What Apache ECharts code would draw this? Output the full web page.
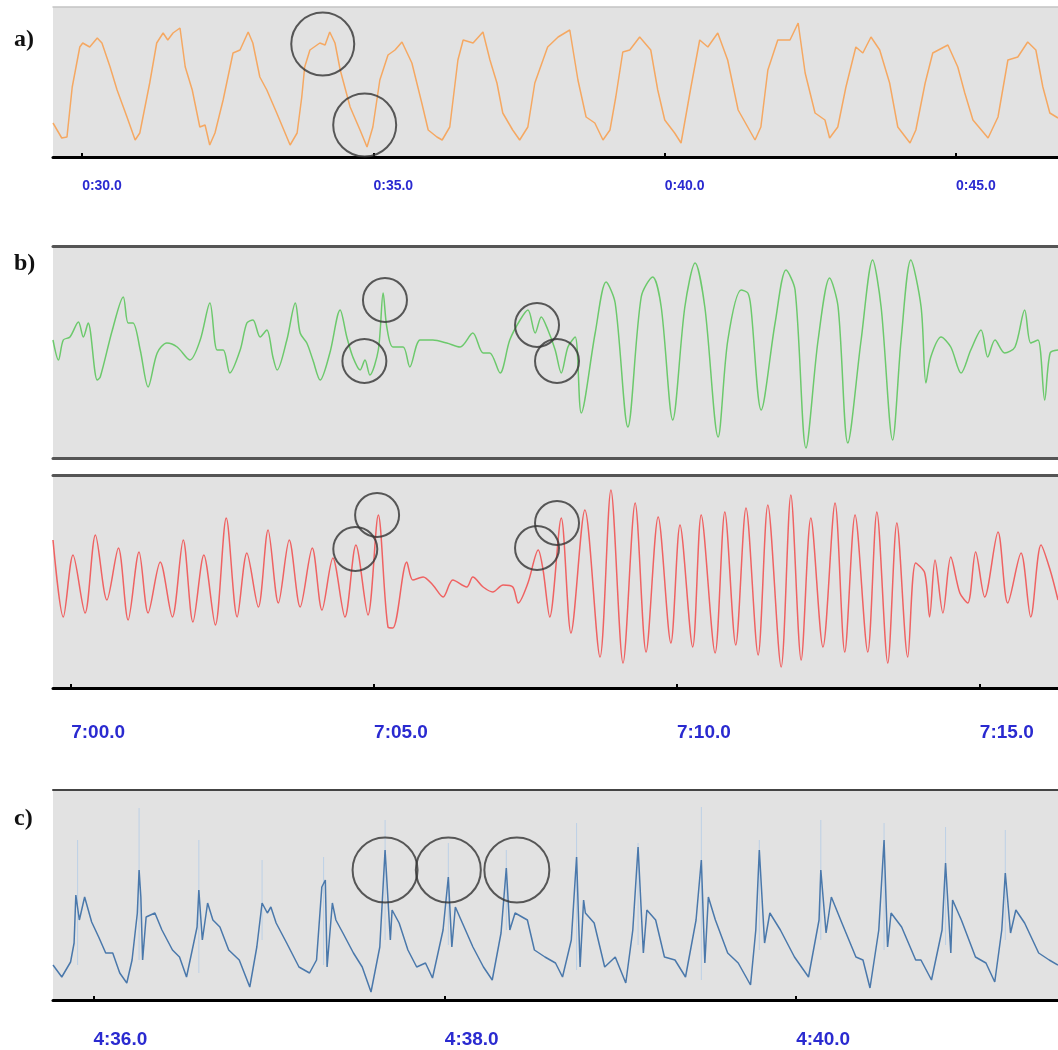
<!DOCTYPE html>
<html>
<head>
<meta charset="utf-8">
<title>Signal traces</title>
<script src="https://cdn.jsdelivr.net/npm/echarts@6/dist/echarts.min.js"></script>
<style>
  html, body { margin: 0; padding: 0; background: #fff; }
  #chart { width: 1058px; height: 1050px; }
</style>
</head>
<body>
<div id="chart"></div>
<script>
// ---- data: [seconds, amplitude] ----

// a) orange trace, 0:29.5 .. 0:46.75
const orangeTrace = [
  [29.50, 34], [29.65, 19], [29.74, 20], [29.83, 70], [29.96, 110], [30.01, 114], [30.13, 110],
  [30.26, 119], [30.34, 114], [30.48, 90], [30.60, 67], [30.77, 40], [30.91, 17], [30.99, 24],
  [31.16, 74], [31.28, 114], [31.39, 124], [31.47, 117], [31.56, 124], [31.68, 129], [31.77, 90],
  [31.89, 67], [32.02, 30], [32.11, 32], [32.19, 12], [32.28, 24], [32.42, 57], [32.59, 104],
  [32.71, 107], [32.85, 125], [32.93, 114], [33.05, 80], [33.17, 67], [33.34, 44], [33.57, 12],
  [33.69, 24], [33.77, 60], [33.82, 90], [33.91, 107], [34.08, 114], [34.17, 112], [34.25, 125],
  [34.34, 114], [34.43, 87], [34.60, 50], [34.77, 27], [34.89, 10], [34.99, 30], [35.11, 77],
  [35.25, 102], [35.37, 107], [35.49, 115], [35.66, 94], [35.83, 54], [35.94, 27], [36.09, 20],
  [36.18, 17], [36.31, 30], [36.45, 97], [36.54, 117], [36.71, 114], [36.88, 125], [37.00, 97],
  [37.12, 74], [37.22, 44], [37.39, 27], [37.51, 17], [37.65, 30], [37.77, 74], [37.99, 110],
  [38.17, 120], [38.37, 127], [38.51, 77], [38.65, 40], [38.80, 34], [38.94, 17], [39.06, 27],
  [39.16, 60], [39.28, 105], [39.40, 107], [39.57, 120], [39.76, 107], [39.88, 67], [40.00, 37],
  [40.17, 24], [40.28, 14], [40.45, 70], [40.60, 117], [40.74, 110], [40.91, 124], [41.08, 97],
  [41.26, 47], [41.55, 17], [41.65, 30], [41.77, 87], [41.94, 117], [42.15, 117], [42.29, 134],
  [42.41, 84], [42.58, 44], [42.75, 37], [42.83, 19], [42.97, 30], [43.11, 70], [43.28, 110],
  [43.40, 104], [43.54, 120], [43.69, 107], [43.86, 74], [44.00, 30], [44.21, 14], [44.31, 27],
  [44.47, 74], [44.60, 104], [44.86, 112], [45.03, 90], [45.15, 64], [45.29, 37], [45.55, 19],
  [45.72, 40], [45.89, 97], [46.06, 100], [46.23, 115], [46.37, 107], [46.49, 70], [46.61, 44],
  [46.75, 39]
];

// b) green trace, 6:59.7 .. 7:16.3
const greenTrace = [
  [419.70, 118], [419.79, 98], [419.87, 118], [419.98, 121], [420.12, 136], [420.20, 121],
  [420.28, 135], [420.43, 78], [420.48, 81], [420.68, 128], [420.86, 161], [420.94, 135],
  [421.02, 135], [421.14, 108], [421.27, 71], [421.42, 105], [421.58, 115], [421.75, 111],
  [421.96, 98], [422.13, 118], [422.29, 155], [422.41, 108], [422.51, 108], [422.62, 85],
  [422.79, 108], [422.90, 135], [423.00, 138], [423.12, 121], [423.23, 128], [423.33, 101],
  [423.40, 88], [423.56, 118], [423.70, 155], [423.78, 125], [423.89, 115], [423.99, 98],
  [424.11, 78], [424.27, 105], [424.44, 148], [424.55, 121], [424.65, 101], [424.77, 88],
  [424.85, 98], [424.93, 83], [425.07, 108], [425.15, 165], [425.21, 131], [425.31, 111],
  [425.48, 111], [425.59, 91], [425.76, 118], [425.97, 118], [426.20, 115], [426.42, 111],
  [426.63, 125], [426.80, 105], [426.91, 105], [427.08, 85], [427.24, 118], [427.41, 138],
  [427.54, 148], [427.66, 125], [427.76, 141], [427.87, 128], [427.99, 108], [428.09, 85],
  [428.20, 111], [428.32, 121], [428.42, 45], [428.65, 125], [428.83, 176], [428.98, 155],
  [429.19, 31], [429.41, 161], [429.60, 181], [429.74, 151], [429.93, 38], [430.13, 151],
  [430.30, 195], [430.46, 151], [430.68, 21], [430.84, 118], [431.06, 168], [431.17, 165],
  [431.22, 151], [431.39, 48], [431.62, 135], [431.80, 188], [431.95, 168], [432.13, 10],
  [432.33, 118], [432.52, 180], [432.66, 151], [432.82, 15], [433.04, 118], [433.23, 198],
  [433.37, 151], [433.56, 18], [433.70, 118], [433.86, 198], [434.03, 151], [434.11, 75],
  [434.19, 101], [434.36, 121], [434.52, 111], [434.69, 85], [434.85, 108], [435.02, 128],
  [435.13, 101], [435.25, 118], [435.41, 105], [435.58, 111], [435.74, 148], [435.84, 115],
  [435.96, 118], [436.07, 58], [436.16, 105], [436.29, 108]
];

// b) red trace, same time window
const redTrace = [
  [419.70, 148], [419.87, 71], [420.03, 133], [420.23, 75], [420.40, 153], [420.59, 88],
  [420.78, 140], [420.94, 68], [421.12, 136], [421.27, 75], [421.47, 126], [421.67, 71],
  [421.85, 148], [422.01, 66], [422.19, 133], [422.38, 63], [422.56, 170], [422.74, 71],
  [422.90, 135], [423.09, 81], [423.25, 158], [423.42, 85], [423.60, 148], [423.78, 81],
  [423.98, 140], [424.14, 78], [424.32, 130], [424.52, 71], [424.70, 143], [424.90, 73],
  [425.07, 173], [425.23, 61], [425.31, 60], [425.54, 126], [425.64, 108], [425.81, 111],
  [425.97, 103], [426.14, 91], [426.30, 108], [426.53, 101], [426.63, 111], [426.80, 101],
  [426.96, 96], [427.13, 103], [427.29, 101], [427.38, 85], [427.54, 105], [427.71, 138],
  [427.79, 118], [427.90, 71], [428.09, 170], [428.25, 55], [428.48, 178], [428.73, 31],
  [428.91, 198], [429.11, 25], [429.31, 185], [429.49, 36], [429.69, 171], [429.90, 45],
  [430.05, 163], [430.26, 41], [430.40, 173], [430.63, 35], [430.79, 176], [430.97, 43],
  [431.14, 180], [431.34, 33], [431.50, 183], [431.72, 21], [431.88, 193], [432.05, 28],
  [432.21, 170], [432.41, 41], [432.61, 185], [432.77, 36], [432.94, 173], [433.15, 36],
  [433.30, 176], [433.48, 25], [433.63, 165], [433.81, 31], [433.94, 125], [434.09, 115],
  [434.17, 71], [434.26, 128], [434.39, 75], [434.52, 131], [434.67, 95], [434.80, 85],
  [434.93, 136], [435.08, 91], [435.30, 156], [435.46, 85], [435.68, 135], [435.84, 71],
  [436.01, 143], [436.16, 118], [436.29, 88]
];

// c) blue trace, 4:35.77 .. 4:41.49
const blueTrace = [
  [275.77, 35], [275.82, 23], [275.87, 38], [275.89, 57], [275.90, 105], [275.92, 80],
  [275.95, 103], [275.99, 78], [276.03, 63], [276.07, 47], [276.11, 47], [276.15, 27],
  [276.19, 17], [276.22, 40], [276.25, 87], [276.26, 130], [276.27, 103], [276.28, 40],
  [276.30, 83], [276.35, 87], [276.39, 70], [276.45, 50], [276.49, 43], [276.53, 23],
  [276.59, 73], [276.60, 110], [276.62, 60], [276.65, 97], [276.68, 80], [276.72, 73],
  [276.77, 50], [276.83, 40], [276.89, 13], [276.93, 53], [276.96, 97], [276.99, 87],
  [277.01, 93], [277.04, 77], [277.10, 57], [277.17, 33], [277.23, 27], [277.27, 40],
  [277.30, 113], [277.32, 120], [277.33, 33], [277.36, 97], [277.38, 80], [277.42, 67],
  [277.48, 47], [277.53, 33], [277.58, 8], [277.63, 53], [277.66, 150], [277.69, 60],
  [277.70, 90], [277.74, 77], [277.79, 50], [277.84, 33], [277.89, 37], [277.93, 22],
  [277.99, 70], [278.02, 123], [278.04, 53], [278.06, 93], [278.10, 77], [278.16, 53],
  [278.22, 33], [278.27, 20], [278.32, 67], [278.35, 132], [278.37, 70], [278.40, 87],
  [278.47, 80], [278.51, 50], [278.57, 43], [278.63, 37], [278.67, 23], [278.72, 60],
  [278.75, 143], [278.77, 33], [278.79, 100], [278.80, 87], [278.85, 77], [278.91, 33],
  [278.97, 43], [279.03, 17], [279.07, 70], [279.10, 153], [279.13, 47], [279.15, 90],
  [279.20, 80], [279.25, 43], [279.31, 40], [279.37, 23], [279.43, 80], [279.46, 140],
  [279.48, 37], [279.50, 103], [279.54, 80], [279.61, 47], [279.67, 37], [279.74, 15],
  [279.77, 70], [279.79, 150], [279.82, 57], [279.85, 87], [279.91, 70], [279.99, 43],
  [280.07, 23], [280.13, 80], [280.14, 130], [280.17, 67], [280.20, 103], [280.26, 77],
  [280.34, 43], [280.38, 40], [280.42, 12], [280.47, 70], [280.50, 160], [280.52, 53],
  [280.54, 87], [280.60, 73], [280.68, 40], [280.71, 40], [280.77, 20], [280.83, 70],
  [280.85, 137], [280.88, 47], [280.89, 100], [280.94, 80], [281.02, 43], [281.08, 37],
  [281.13, 18], [281.17, 70], [281.19, 127], [281.22, 67], [281.25, 90], [281.30, 77],
  [281.38, 47], [281.44, 40], [281.49, 35]
];

// c) faint spike extents: [time, top, bottom]
const blueSpikes = [
  [275.91, 160, 35], [276.26, 192, 40], [276.60, 160, 27], [276.96, 140, 60],
  [277.31, 143, 35], [277.66, 180, 60], [278.02, 157, 55], [278.35, 150, 70],
  [278.75, 177, 30], [279.10, 157, 55], [279.46, 193, 20], [279.79, 160, 50],
  [280.14, 180, 60], [280.50, 177, 50], [280.85, 173, 55], [281.19, 170, 60]
];

// annotation rings: [time, amplitude]
const circlesA = [[34.13, 113], [34.85, 32]];
const circlesGreen = [[425.18, 158], [424.84, 97], [427.69, 133], [428.02, 97]];
const circlesRed = [[425.05, 173], [424.69, 139], [428.02, 165], [427.69, 140]];
const circlesC = [[277.66, 130], [278.02, 130], [278.41, 130]];

// tick positions (seconds)
const ticksA = [30, 35, 40, 45];
const ticksB = [420, 425, 430, 435];
const ticksC = [276, 278, 280];

// ---- chart ----
const chart = echarts.init(document.getElementById('chart'), null, { renderer: 'canvas' });

function fmtTime(v) {
  const m = Math.floor(v / 60 + 1e-9);
  const s = v - m * 60;
  return m + ':' + (s < 10 ? '0' : '') + s.toFixed(1);
}

const panelBg = '#e2e2e2';
const labelBlue = '#2a2ad0';

const grids = [
  { left: 53, right: 0, top: 7, height: 150 },
  { left: 53, right: 0, top: 246, height: 212 },
  { left: 53, right: 0, top: 475, height: 213 },
  { left: 53, right: 0, top: 790, height: 210 }
].map(g => Object.assign(g, { show: true, backgroundColor: panelBg, borderWidth: 0 }));

const ranges = [[29.5, 46.75], [419.7, 436.29], [419.7, 436.29], [275.77, 281.49]];
const yMax = [150, 212, 213, 210];

function bottomAxis(i, ticks, fontSize, margin, lineColor, showLabels) {
  return {
    type: 'value', gridIndex: i, position: 'bottom',
    min: ranges[i][0], max: ranges[i][1],
    splitLine: { show: false },
    axisLine: { show: true, lineStyle: { color: lineColor, width: 3 } },
    axisTick: { show: showLabels, inside: true, length: 4, customValues: ticks,
      lineStyle: { color: '#000', width: 2 } },
    axisLabel: { show: showLabels, customValues: ticks, formatter: fmtTime, align: 'left',
      margin: margin, color: labelBlue, fontWeight: 'bold', fontSize: fontSize,
      fontFamily: 'Liberation Sans, Arial, sans-serif' }
  };
}

function topAxis(i, color, width) {
  return {
    type: 'value', gridIndex: i, position: 'top',
    min: ranges[i][0], max: ranges[i][1],
    splitLine: { show: false }, axisTick: { show: false }, axisLabel: { show: false },
    axisLine: { show: true, lineStyle: { color: color, width: width } }
  };
}

const xAxes = [
  bottomAxis(0, ticksA, 14, 22, '#000', true),
  bottomAxis(1, ticksB, 19, 35, '#555', false),
  bottomAxis(2, ticksB, 19, 35, '#000', true),
  bottomAxis(3, ticksC, 19, 30, '#000', true),
  topAxis(0, '#c4c4c4', 1.5),
  topAxis(1, '#555', 3),
  topAxis(2, '#555', 3),
  topAxis(3, '#444', 2)
];

const yAxes = yMax.map((m, i) => ({
  type: 'value', gridIndex: i, min: 0, max: m, show: false
}));

function trace(i, data, color, width, smooth) {
  return {
    type: 'line', xAxisIndex: i, yAxisIndex: i, data: data,
    showSymbol: false, symbol: 'none', silent: true, smooth: smooth || false,
    lineStyle: { color: color, width: width }
  };
}

function rings(i, data, size) {
  return {
    type: 'scatter', xAxisIndex: i, yAxisIndex: i, data: data,
    symbol: 'circle', symbolSize: size, silent: true, z: 5,
    itemStyle: { color: 'rgba(0,0,0,0)', borderColor: '#333', borderWidth: 2 }
  };
}

// faint vertical spike strokes, broken apart with empty points
const spikeData = [];
blueSpikes.forEach(s => {
  spikeData.push([s[0], s[1]], [s[0], s[2]], [s[0], '-']);
});

const panelTitle = (text, top) => ({
  text: text, left: 9, top: top,
  textStyle: { fontFamily: 'Liberation Serif, Times New Roman, serif', fontWeight: 'bold',
    fontSize: 24, color: '#111' }
});

chart.setOption({
  animation: false,
  backgroundColor: '#fff',
  title: [panelTitle('a)', 23), panelTitle('b)', 247), panelTitle('c)', 802)],
  grid: grids,
  xAxis: xAxes,
  yAxis: yAxes,
  series: [
    trace(0, orangeTrace, '#f5a862', 1.5),
    trace(1, greenTrace, '#6cc96c', 1.5, 0.3),
    trace(2, redTrace, '#ef6262', 1.5, 0.3),
    Object.assign(trace(3, spikeData, '#bcd0e6', 1), { connectNulls: false }),
    trace(3, blueTrace, '#4a78ab', 1.5),
    rings(0, circlesA, 63),
    rings(1, circlesGreen, 44),
    rings(2, circlesRed, 44),
    rings(3, circlesC, 65)
  ]
});
</script>
</body>
</html>
